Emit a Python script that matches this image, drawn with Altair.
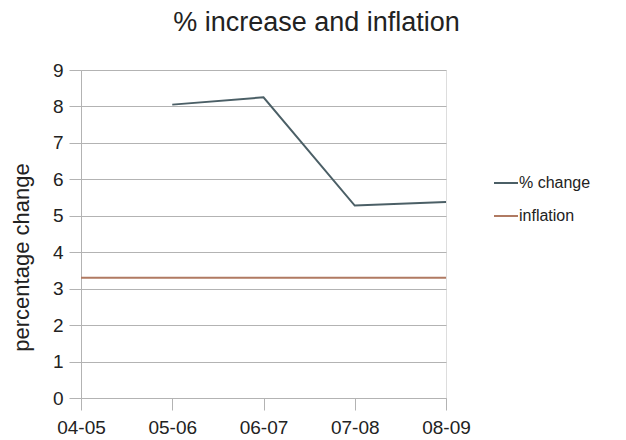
import altair as alt
import pandas as pd

years = ["04-05", "05-06", "06-07", "07-08", "08-09"]
pct_change = [None, 8.05, 8.25, 5.28, 5.38]
inflation = [3.3, 3.3, 3.3, 3.3, 3.3]

rows = []
for y, v in zip(years, pct_change):
    if v is not None:
        rows.append({"year": y, "value": v, "series": "% change"})
for y, v in zip(years, inflation):
    rows.append({"year": y, "value": v, "series": "inflation"})
df = pd.DataFrame(rows)

FONT = "Liberation Sans"

chart = alt.Chart(df).mark_line(strokeWidth=2).encode(
    x=alt.X("year:O", sort=years, scale=alt.Scale(domain=years, type="point", padding=0),
            axis=alt.Axis(title=None, labelAngle=0, labelFontSize=19, labelColor="#222222",
                          labelFont=FONT, domainColor="#b3b3b3", tickColor="#b3b3b3",
                          tickSize=12, grid=False, labelPadding=8)),
    y=alt.Y("value:Q", scale=alt.Scale(domain=[0, 9], nice=False),
            axis=alt.Axis(title="percentage change", titleFontSize=22, titleFont=FONT,
                          titleFontWeight="normal", titleColor="#222222", titleY=187,
                          values=list(range(10)), labelFontSize=19, labelFont=FONT,
                          labelColor="#222222", domainColor="#b3b3b3", tickColor="#b3b3b3",
                          tickSize=12, gridColor="#b3b3b3", titlePadding=19, labelPadding=6)),
    color=alt.Color("series:N", scale=alt.Scale(domain=["% change", "inflation"],
                                                range=["#4b5f66", "#b07a62"]),
                    legend=alt.Legend(title=None, orient="none", legendX=412, legendY=100,
                                      symbolType="stroke", symbolSize=576, symbolStrokeWidth=2,
                                      labelFontSize=16, labelFont=FONT, labelColor="#222222",
                                      rowPadding=12, labelOffset=0)),
).properties(
    width=365, height=328,
    title=alt.TitleParams("% increase and inflation", fontSize=27, font=FONT,
                          fontWeight="normal", color="#222222", anchor="middle",
                          dx=53, offset=24),
).configure_view(stroke="#b3b3b3").configure(
    autosize=alt.AutoSizeParams(type="none"),
    padding={"left": 81, "top": 70, "right": 180, "bottom": 42},
)

chart.save("out.html", embed_options={"renderer": "svg", "actions": False})
